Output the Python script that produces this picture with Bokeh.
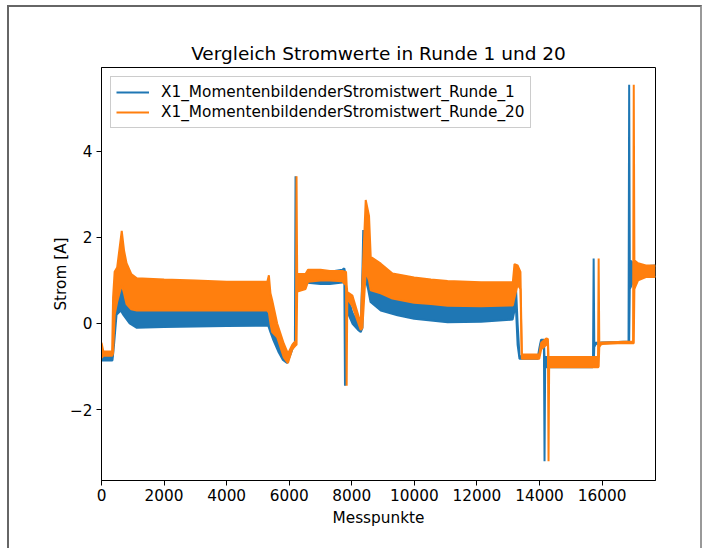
from bokeh.plotting import figure
from bokeh.models import Range1d, FixedTicker, CustomJSTickFormatter
from bokeh.embed import file_html
from bokeh.resources import INLINE

r1_x = [0, 350, 400, 480, 615, 700, 900, 1130, 2000, 3000, 4000, 5000, 5330,
        5400, 5500, 5650, 5800, 5930, 6050, 6150, 6182, 6202, 6222, 6260, 6500,
        7000, 7300, 7700, 7762, 7782, 7802, 7900, 8019, 8200, 8285, 8340, 8365,
        8450, 8520, 8600, 8926, 9461, 9993, 10528, 11063, 12131, 13140, 13200,
        13250, 13300, 13360, 13950, 14000, 14050, 14120, 14140, 14160, 14180,
        14220, 15000, 15700, 15710, 15730, 15750, 15800, 16000, 16500, 16845,
        16865, 16885, 16920, 17000, 17100, 17400, 17707]
r1_lo = [-0.86, -0.86, -0.5, 0.2, 0.3, 0.2, 0.0, -0.10, -0.08, -0.07, -0.06, -0.05, -0.05,
         -0.2, -0.4, -0.65, -0.85, -0.92, -0.7, -0.5, -0.47, -0.47, 0.75, 0.75, 0.95,
         0.92, 0.92, 0.95, 0.95, -1.45, 0.5, 0.2, 0.0, -0.15, -0.2, -0.1, 0.9,
         1.0, 0.8, 0.5, 0.30, 0.19, 0.11, 0.07, 0.03, 0.04, 0.09, 0.3,
         0.3, -0.5, -0.82, -0.82, -0.65, -0.43, -0.42, -0.42, -3.2, -1.0,
         -1.02, -1.02, -1.02, -1.0, -1.0, -0.55, -0.48, -0.46, -0.45, -0.44,
         -0.44, 0.8, 0.85, 1.0, 1.08, 1.08, 1.08]
r1_hi = [-0.78, -0.78, 0.0, 0.75, 0.88, 0.8, 0.6, 0.36, 0.36, 0.36, 0.36, 0.36, 0.36,
         0.2, -0.1, -0.45, -0.65, -0.82, -0.6, -0.45, -0.44, 3.42, 1.1, 1.1, 1.15,
         1.2, 1.2, 1.25, 1.28, 1.2, 0.8, 0.55, 0.25, 0.0, -0.1, 1.2, 2.17,
         1.75, 1.5, 0.85, 0.76, 0.6, 0.54, 0.5, 0.47, 0.46, 0.48, 0.75,
         0.8, 0.0, -0.76, -0.76, -0.55, -0.38, -0.38, -0.38, -0.8, -0.78,
         -0.78, -0.78, -0.78, -0.78, 1.51, -0.45, -0.45, -0.44, -0.43, -0.42,
         5.55, 1.47, 1.45, 1.4, 1.35, 1.33, 1.35]

r20_x = [0, 60, 340, 370, 420, 500, 647, 720, 800, 950, 1130, 2000, 3000, 4000,
         5000, 5300, 5350, 5400, 5455, 5615, 5827, 5960, 6096, 6214, 6234, 6254,
         6290, 6522, 6600, 7000, 7300, 7700, 7800, 7816, 7836, 7856, 7880, 8019,
         8285, 8340, 8445, 8551, 8605, 8926, 9300, 9993, 10528, 11063, 12131,
         13147, 13200, 13300, 13390, 13435, 13990, 14054, 14214, 14268, 14288,
         14308, 14350, 15000, 15860, 15870, 15890, 15910, 15950, 16000, 16500,
         16990, 17012, 17032, 17060, 17150, 17400, 17707]
r20_lo = [-0.8, -0.75, -0.75, -0.7, 0.2, 0.5, 0.9, 0.7, 0.45, 0.33, 0.30, 0.30, 0.30, 0.30,
          0.30, 0.30, 0.25, 0.0, -0.2, -0.32, -0.79, -0.92, -0.6, -0.5, -0.5, 0.75,
          0.75, 0.8, 0.97, 1.0, 1.0, 0.98, 0.9, 0.9, -1.45, 0.6, 0.55, 0.4,
          -0.15, -0.1, 1.2, 1.0, 0.77, 0.70, 0.58, 0.48, 0.45, 0.41, 0.40,
          0.42, 0.6, 0.9, 0.8, -0.82, -0.82, -0.6, -0.5, -0.45, -3.2,
          -1.0, -1.02, -1.02, -1.02, -1.02, -1.0, -0.55, -0.5, -0.48, -0.46,
          -0.46, -0.46, 0.8, 0.85, 1.0, 1.08, 1.08]
r20_hi = [-0.45, -0.65, -0.65, 0.6, 1.2, 1.3, 2.15, 1.7, 1.4, 1.15, 1.05, 1.02, 1.0, 0.97,
          0.97, 0.97, 1.12, 0.7, 0.54, 0.0, -0.47, -0.7, -0.5, -0.4, 3.42, 1.15,
          1.15, 1.15, 1.25, 1.25, 1.22, 1.22, 1.2, 1.2, 0.9, 0.72, 0.72, 0.65,
          0.0, 1.0, 2.87, 2.5, 1.55, 1.39, 1.16, 1.07, 1.02, 0.99, 0.96,
          0.96, 1.38, 1.35, 1.2, -0.72, -0.72, -0.45, -0.35, -0.36, -0.78,
          -0.78, -0.78, -0.78, -0.78, -0.78, 1.51, -0.45, -0.45, -0.44, -0.43,
          -0.42, 5.55, 1.47, 1.45, 1.4, 1.35, 1.35]

series_names = ["X1_MomentenbildenderStromistwert_Runde_1",
                "X1_MomentenbildenderStromistwert_Runde_20"]
series_colors = ["#1f77b4", "#ff7f0e"]

x_ticks = [0, 2000, 4000, 6000, 8000, 10000, 12000, 14000, 16000]
y_ticks = [-2, 0, 2, 4]

FONT = "DejaVu Sans"
FS = "15.3px"

p = figure(width=695, height=543, output_backend="svg", toolbar_location=None,
           x_range=Range1d(0, 17707), y_range=Range1d(-3.65, 5.95),
           min_border_left=92, min_border_right=49, min_border_top=60,
           min_border_bottom=70,
           title="Vergleich Stromwerte in Runde 1 und 20")
p.styles = {"position": "relative", "left": "7px", "top": "5px",
            "border-left": "2px solid #666", "border-top": "2px solid #666",
            "border-right": "2px solid #999"}

p.title.align = "center"
p.title.text_font = FONT
p.title.text_font_size = "18.5px"
p.title.text_font_style = "normal"
p.title.text_color = "black"
p.title.standoff = 7

p.xgrid.visible = False
p.ygrid.visible = False
p.outline_line_color = "black"
p.outline_line_alpha = 1
p.outline_line_width = 1

for ax in (p.xaxis[0], p.yaxis[0]):
    ax.axis_line_color = "black"
    ax.major_tick_line_color = "black"
    ax.major_tick_out = 5
    ax.major_tick_in = 0
    ax.minor_tick_out = 0
    ax.minor_tick_in = 0
    ax.major_label_text_font = FONT
    ax.major_label_text_font_size = FS
    ax.major_label_text_color = "black"
    ax.axis_label_text_font = FONT
    ax.axis_label_text_font_size = FS
    ax.axis_label_text_font_style = "normal"
    ax.axis_label_text_color = "black"

p.xaxis[0].ticker = FixedTicker(ticks=x_ticks)
p.yaxis[0].ticker = FixedTicker(ticks=y_ticks)
p.xaxis[0].axis_label = "Messpunkte"
p.yaxis[0].axis_label = "Strom [A]"
p.xaxis[0].major_label_standoff = 3
p.yaxis[0].major_label_standoff = 4
p.xaxis[0].axis_label_standoff = 5
p.yaxis[0].axis_label_standoff = -3
p.yaxis[0].formatter = CustomJSTickFormatter(
    code="return tick < 0 ? '\u2212' + Math.abs(tick) : String(tick);")

for xs, lo, hi, name, col in [(r1_x, r1_lo, r1_hi, series_names[0], series_colors[0]),
                              (r20_x, r20_lo, r20_hi, series_names[1], series_colors[1])]:
    p.varea(x=xs, y1=lo, y2=hi, fill_color=col, fill_alpha=1)
    p.line(xs, lo, line_color=col, line_width=2)
    p.line(xs, hi, line_color=col, line_width=2, legend_label=name)

lg = p.legend[0]
lg.location = "top_left"
lg.margin = 9
lg.padding = 5
lg.spacing = 0
lg.label_text_font = FONT
lg.label_text_font_size = FS
lg.label_text_color = "black"
lg.glyph_width = 33
lg.glyph_height = 20
lg.label_height = 20
lg.label_standoff = 12
lg.border_line_color = "#cccccc"
lg.border_line_alpha = 1
lg.background_fill_alpha = 0.8

open("out.html", "w").write(file_html(p, INLINE))
